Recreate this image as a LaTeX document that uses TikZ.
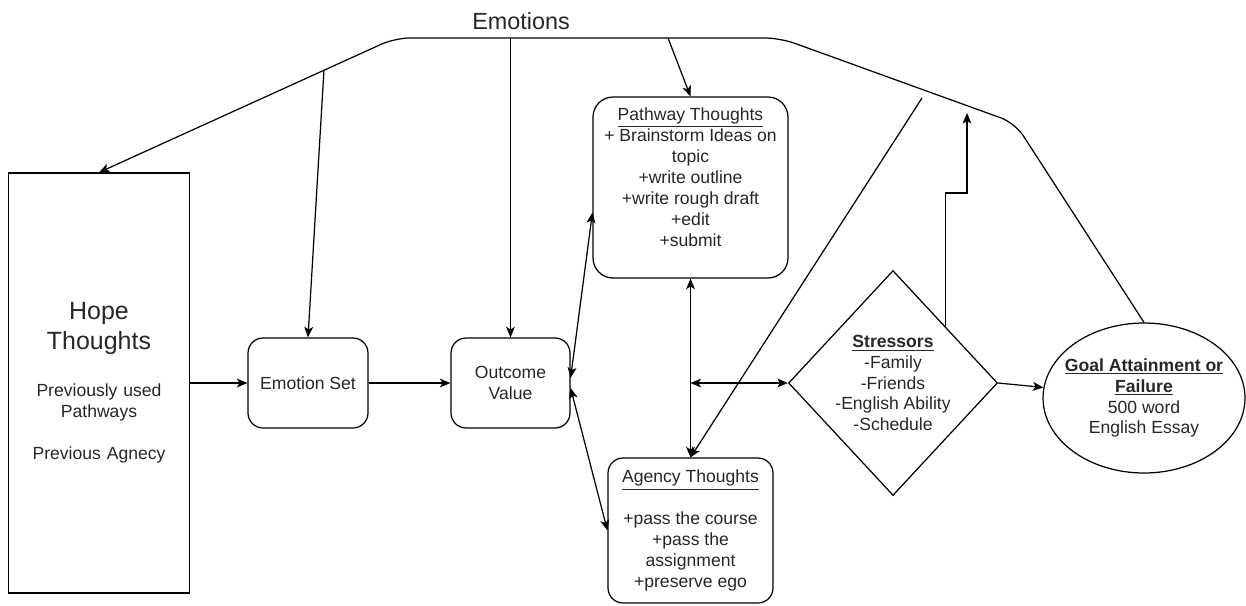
\documentclass[tikz,border=0pt]{standalone}
\usepackage{fontspec}
\setmainfont{Liberation Sans}
\usetikzlibrary{arrows, arrows.meta, positioning, shapes.geometric, calc}

\tikzset{
  txt/.style={font=\fontsize{10}{11.9}\selectfont, text=black!85},
  stepbox/.style={draw, rounded corners=0.3cm, align=center, txt},
}

\begin{document}
\begin{tikzpicture}[x={(0.02cm,0)}, y={(0,-0.02cm)}, line width=0.7pt,
  >={Stealth[length=6pt,width=5pt,inset=1.5pt]}]
\useasboundingbox (0,0) rectangle (1246,605);

\node[txt, font=\fontsize{13.3}{16}\selectfont] (emo) at (521,21) {Emotions};

\node[draw, minimum width=3.6cm, minimum height=8.4cm, text width=3.4cm, align=center, text=black!85] (hope) at (99,383)
  {{\fontsize{14.2}{17}\selectfont Hope\\Thoughts\par}\vspace{15pt}%
   {\fontsize{10}{11.9}\selectfont Previously used\\Pathways\\[11.9pt]Previous Agnecy\par}};
\node[stepbox, minimum width=2.4cm, minimum height=1.8cm] (emoset) at (308,383) {Emotion Set};
\node[stepbox, minimum width=2.38cm, minimum height=1.8cm] (outcome) at (510.5,383) {Outcome\\Value};
\node[stepbox, rounded corners=0.4cm, minimum width=3.9cm, minimum height=3.62cm] (pathway) at (690.5,187.5)
  {\underline{Pathway Thoughts}\\+ Brainstorm Ideas on\\topic\\+write outline\\+write rough draft\\+edit\\+submit\\ \mbox{}};
\node[stepbox, minimum width=3.3cm, minimum height=2.9cm] (agency) at (690.5,530.5)
  {\underline{Agency Thoughts}\\ \mbox{}\\+pass the course\\+pass the\\assignment\\+preserve ego};
\node[draw, diamond, minimum width=4.18cm, minimum height=4.5cm, inner sep=0pt,
  label={[txt, align=center]center:{\textbf{\underline{Stressors}}\\-Family\\-Friends\\-English Ability\\-Schedule}}] (stressors) at (893,383) {};
\node[draw, ellipse, minimum width=4.04cm, minimum height=3cm, inner sep=0pt,
  label={[txt, align=center]center:{\textbf{\underline{Goal Attainment or}}\\\textbf{\underline{Failure}}\\500 word\\English Essay}}] (goal) at (1144,398) {};

% emotions line across the top
\coordinate (bendR) at (1015,123);
\coordinate (topR) at (780,38);
\coordinate (topL) at (395,38);
\draw[->, rounded corners=0.3cm] (goal.north) -- (bendR) -- (topR) -- (topL) -- (hope.north);
\coordinate (tapA) at ($(topL)!0.24!(hope.north)$);
\coordinate (tapC) at (668,38);
\draw[->] (tapA) -- (emoset.north);
\draw[->] (outcome.north |- topL) -- (outcome.north);
\draw[->] (tapC) -- (pathway.north);

\path[->] (hope) edge (emoset);
\path[->] (emoset) edge (outcome);
\draw[<->] ($(outcome.east)+(0,-5)$) -- ($(pathway.west)+(0,25)$);
\draw[<->] ($(outcome.east)+(0,5)$) -- (agency.west);
\draw[<->] (pathway.south) -- (agency.north);
\draw[<->] (pathway.south |- stressors.west) -- (stressors.west);

\coordinate (tapD) at (922,98);
\draw[->] (tapD) -- (agency.north);
\coordinate (elbowEnd) at (967,113);
\draw[->] (stressors.north east) |- ($(elbowEnd)+(0,80)$) -- (elbowEnd);
\draw[->] (stressors.east) -- (goal.174);
\end{tikzpicture}
\end{document}
